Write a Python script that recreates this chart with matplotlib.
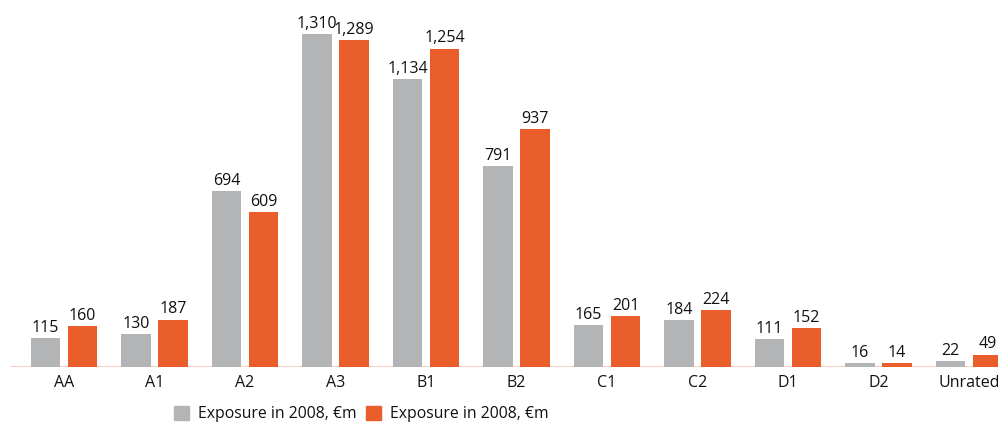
import numpy as np
import matplotlib.pyplot as plt
from matplotlib.patches import Patch

plt.rcParams['font.family'] = ['Open Sans', 'DejaVu Sans']

# ratings and exposures, EUR m
grades = ['AA', 'A1', 'A2', 'A3', 'B1', 'B2', 'C1', 'C2', 'D1', 'D2', 'Unrated']
exp_grey = [115, 130, 694, 1310, 1134, 791, 165, 184, 111, 16, 22]
exp_orange = [160, 187, 609, 1289, 1254, 937, 201, 224, 152, 14, 49]
legend_labels = ['Exposure in 2008, €m', 'Exposure in 2008, €m']

grey = '#b3b4b6'
orange = '#e85d2a'
ink = '#111111'

fig = plt.figure(figsize=(9.98, 4.26), dpi=100)
ax = fig.add_axes([0, 59 / 426, 1, 367 / 426])

x = np.arange(len(grades))
w = 0.33
off = 0.205
b1 = ax.bar(x - off, exp_grey, w, color=grey, zorder=2)
b2 = ax.bar(x + off, exp_orange, w, color=orange, zorder=2)

for bars, vals in [(b1, exp_grey), (b2, exp_orange)]:
    for r, v in zip(bars, vals):
        ax.annotate(f'{v:,}', (r.get_x() + r.get_width() / 2, v),
                    xytext=(0, 1.5), textcoords='offset points',
                    ha='center', va='bottom', fontsize=11.5, color=ink,
                    fontweight='medium')

ax.set_xlim(-64 / 90.5, (998 - 64) / 90.5)
ax.set_ylim(0, 1445)

# thin baseline under the bars
ax.axhline(0, xmin=12 / 998, xmax=1, color='#f9cfc0', lw=1.5, zorder=1)

ax.set_xticks(x)
ax.set_xticklabels(grades, fontsize=11.5, color=ink, fontweight='medium')
ax.tick_params(axis='x', length=0, pad=6)
ax.set_yticks([])
for s in ax.spines.values():
    s.set_visible(False)
ax.patch.set_alpha(0)

handles = [Patch(color=grey), Patch(color=orange)]
leg = fig.legend(handles, legend_labels, loc='center', bbox_to_anchor=(0.362, 0.028),
                 ncol=2, frameon=False, fontsize=11.3, handlelength=0.95,
                 handleheight=1.0, handletextpad=0.6, columnspacing=0.6)
for t in leg.get_texts():
    t.set_color(ink)
    t.set_fontweight('medium')

fig.savefig('out.png', dpi=100)
